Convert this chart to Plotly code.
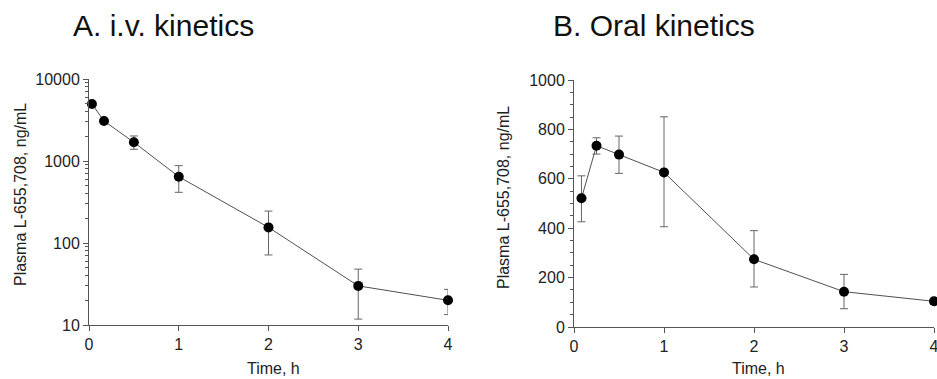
import plotly.graph_objects as go

# Panel A: i.v. kinetics
iv_time = [0.033, 0.167, 0.5, 1, 2, 3, 4]
iv_conc = [4950, 3080, 1690, 644, 155, 30, 20]
iv_err_plus = [0, 0, 330, 233, 90, 18, 7.2]
iv_err_minus = [0, 0, 300, 229, 83.5, 18.2, 6.6]

# Panel B: Oral kinetics
po_time = [0.083, 0.25, 0.5, 1, 2, 3, 4]
po_conc = [521, 734, 698, 626, 274, 143, 104]
po_err_plus = [91, 32, 75, 225, 116, 70, 12]
po_err_minus = [95, 34, 76, 220, 112, 69, 12]

x_ticks = [0, 1, 2, 3, 4]
iv_y_ticks = [10, 100, 1000, 10000]
po_y_ticks = [0, 200, 400, 600, 800, 1000]

FONT = "Liberation Sans, Arial, sans-serif"
AX = "#555555"
LINE = "#505050"

fig = go.Figure()

fig.add_trace(go.Scatter(
    x=iv_time, y=iv_conc, mode="lines+markers",
    line=dict(color=LINE, width=1),
    marker=dict(color="black", size=10),
    error_y=dict(type="data", symmetric=False, array=iv_err_plus,
                 arrayminus=iv_err_minus, color="#666666", thickness=1, width=4),
    xaxis="x", yaxis="y", cliponaxis=False, showlegend=False))

fig.add_trace(go.Scatter(
    x=po_time, y=po_conc, mode="lines+markers",
    line=dict(color=LINE, width=1),
    marker=dict(color="black", size=10),
    error_y=dict(type="data", symmetric=False, array=po_err_plus,
                 arrayminus=po_err_minus, color="#666666", thickness=1, width=4),
    xaxis="x2", yaxis="y2", cliponaxis=False, showlegend=False))

W, H = 937, 379
def px_x(p):
    return p / W
def px_y(p):
    return (H - p) / H

common_x = dict(range=[0, 4], tickvals=x_ticks, ticktext=[str(t) for t in x_ticks],
                showline=True, linecolor=AX, linewidth=1, ticks="outside",
                ticklen=5, tickcolor=AX, showgrid=False, zeroline=False, automargin=False,
                ticklabeloverflow="allow",
                tickfont=dict(family=FONT, size=16, color="#222"))

fig.update_layout(
    width=W, height=H, margin=dict(l=0, r=0, t=0, b=0, autoexpand=False),
    paper_bgcolor="white", plot_bgcolor="white",
    xaxis=dict(domain=[px_x(89), px_x(448)], anchor="y", **common_x),
    xaxis2=dict(domain=[px_x(574), px_x(934)], anchor="y2", **common_x),
    yaxis=dict(type="log", domain=[px_y(325), px_y(79)], anchor="x",
               range=[1, 4], tickvals=iv_y_ticks, ticktext=[str(v) for v in iv_y_ticks],
               showline=True, linecolor=AX, linewidth=1, ticks="outside",
               ticklen=5, tickcolor=AX, showgrid=False, zeroline=False, automargin=False,
               tickfont=dict(family=FONT, size=16, color="#222"),
               minor=dict(ticks="outside", ticklen=3, tickcolor=AX, dtick="D1", showgrid=False)),
    yaxis2=dict(domain=[px_y(327), px_y(80)], anchor="x2",
                range=[0, 1000], tickvals=po_y_ticks, ticktext=[str(v) for v in po_y_ticks],
                showline=True, linecolor=AX, linewidth=1, ticks="outside",
                ticklen=5, tickcolor=AX, showgrid=False, zeroline=False, automargin=False,
                tickfont=dict(family=FONT, size=16, color="#222"),
                minor=dict(ticks="outside", ticklen=3, tickcolor=AX, dtick=50, showgrid=False)),
    annotations=[
        dict(text="A. i.v. kinetics", x=px_x(71), y=px_y(26), xref="paper", yref="paper",
             xanchor="left", yanchor="middle", showarrow=False,
             font=dict(family=FONT, size=30, color="#111")),
        dict(text="B. Oral kinetics", x=px_x(551), y=px_y(26), xref="paper", yref="paper",
             xanchor="left", yanchor="middle", showarrow=False,
             font=dict(family=FONT, size=30, color="#111")),
        dict(text="Plasma L-655,708, ng/mL", x=px_x(20), y=px_y(195), xref="paper", yref="paper",
             xanchor="center", yanchor="middle", textangle=-90, showarrow=False,
             font=dict(family=FONT, size=16, color="#222")),
        dict(text="Plasma L-655,708, ng/mL", x=px_x(503), y=px_y(197), xref="paper", yref="paper",
             xanchor="center", yanchor="middle", textangle=-90, showarrow=False,
             font=dict(family=FONT, size=16, color="#222")),
        dict(text="Time, h", x=px_x(273), y=px_y(368), xref="paper", yref="paper",
             xanchor="center", yanchor="middle", showarrow=False,
             font=dict(family=FONT, size=16, color="#222")),
        dict(text="Time, h", x=px_x(758), y=px_y(368), xref="paper", yref="paper",
             xanchor="center", yanchor="middle", showarrow=False,
             font=dict(family=FONT, size=16, color="#222")),
    ],
)

fig.write_html("out.html")
